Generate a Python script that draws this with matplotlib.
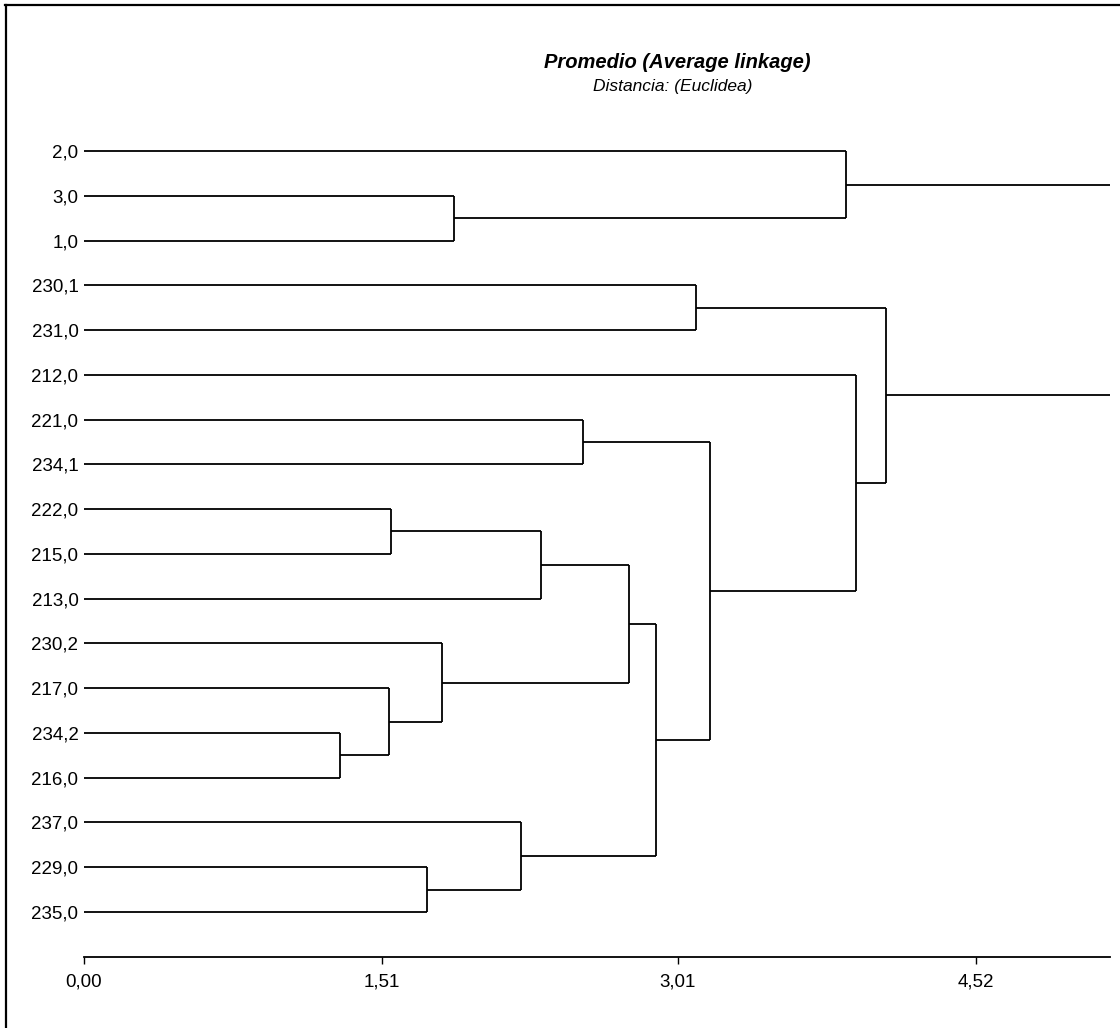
import matplotlib
matplotlib.use("Agg")
import matplotlib.pyplot as plt
from matplotlib.lines import Line2D

# ---- data ----
leaf_labels = ["2,0", "3,0", "1,0", "230,1", "231,0", "212,0", "221,0", "234,1",
               "222,0", "215,0", "213,0", "230,2", "217,0", "234,2", "216,0",
               "237,0", "229,0", "235,0"]
# merges: (child_a, child_b, height); leaves are 0..17, new clusters 18..
merge_a = [13, 18, 19, 8, 21, 22, 16, 15, 23, 6, 27, 5, 3, 30, 1, 0, 33]
merge_b = [14, 12, 11, 9, 10, 20, 17, 24, 25, 7, 26, 28, 4, 29, 2, 32, 31]
merge_h = [1.297, 1.546, 1.814, 1.556, 2.316, 2.762, 1.738, 2.215, 2.899,
           2.529, 3.173, 3.913, 3.102, 4.065, 1.875, 3.862, 5.60]
x_ticks = [0.00, 1.51, 3.01, 4.52]
x_tick_labels = ["0,00", "1,51", "3,01", "4,52"]
title = "Promedio (Average linkage)"
subtitle = "Distancia: (Euclidea)"

FONT = ["Liberation Sans", "DejaVu Sans"]
plt.rcParams["font.family"] = FONT

W, H = 1120, 1028
fig = plt.figure(figsize=(W / 100, H / 100), dpi=100)
ax_left, ax_right = 84 / W, 1110 / W
ax_bottom, ax_top = (H - 957) / H, (H - 100) / H
ax = fig.add_axes([ax_left, ax_bottom, ax_right - ax_left, ax_top - ax_bottom])

n = len(leaf_labels)
pos_y = {i: float(i) for i in range(n)}
pos_x = {i: 0.0 for i in range(n)}
for k, (a, b, h) in enumerate(zip(merge_a, merge_b, merge_h)):
    cid = n + k
    ya, yb = pos_y[a], pos_y[b]
    ax.plot([pos_x[a], h], [ya, ya], color="black", lw=1.3, solid_capstyle="butt")
    ax.plot([pos_x[b], h], [yb, yb], color="black", lw=1.3, solid_capstyle="butt")
    ax.plot([h, h], [ya, yb], color="black", lw=1.3, solid_capstyle="butt")
    pos_y[cid] = (ya + yb) / 2
    pos_x[cid] = h

ax.set_xlim(0, 5.20)
ax.set_ylim(18.007, -1.14)
for s in ["top", "right", "left"]:
    ax.spines[s].set_visible(False)
ax.spines["bottom"].set_linewidth(1.3)
ax.set_yticks(range(n))
ax.set_yticklabels(leaf_labels, fontsize=13.5)
ax.tick_params(axis="y", length=0, pad=4)
ax.set_xticks(x_ticks)
ax.set_xticklabels(x_tick_labels, fontsize=13.5)
ax.tick_params(axis="x", length=5, width=1, pad=7)

fig.text(677 / W, 1 - 62 / H, title, ha="center", va="center",
         fontsize=14.5, fontweight="bold", fontstyle="italic")
fig.text(673 / W, 1 - 87 / H, subtitle, ha="center", va="center",
         fontsize=12.5, fontstyle="italic")

# outer frame (top and left edges)
fig.add_artist(Line2D([5 / W, 1], [1 - 5 / H, 1 - 5 / H], transform=fig.transFigure,
                      color="black", lw=1.6))
fig.add_artist(Line2D([6 / W, 6 / W], [0, 1 - 5 / H], transform=fig.transFigure,
                      color="black", lw=1.6))

fig.savefig("out.png", dpi=100)
